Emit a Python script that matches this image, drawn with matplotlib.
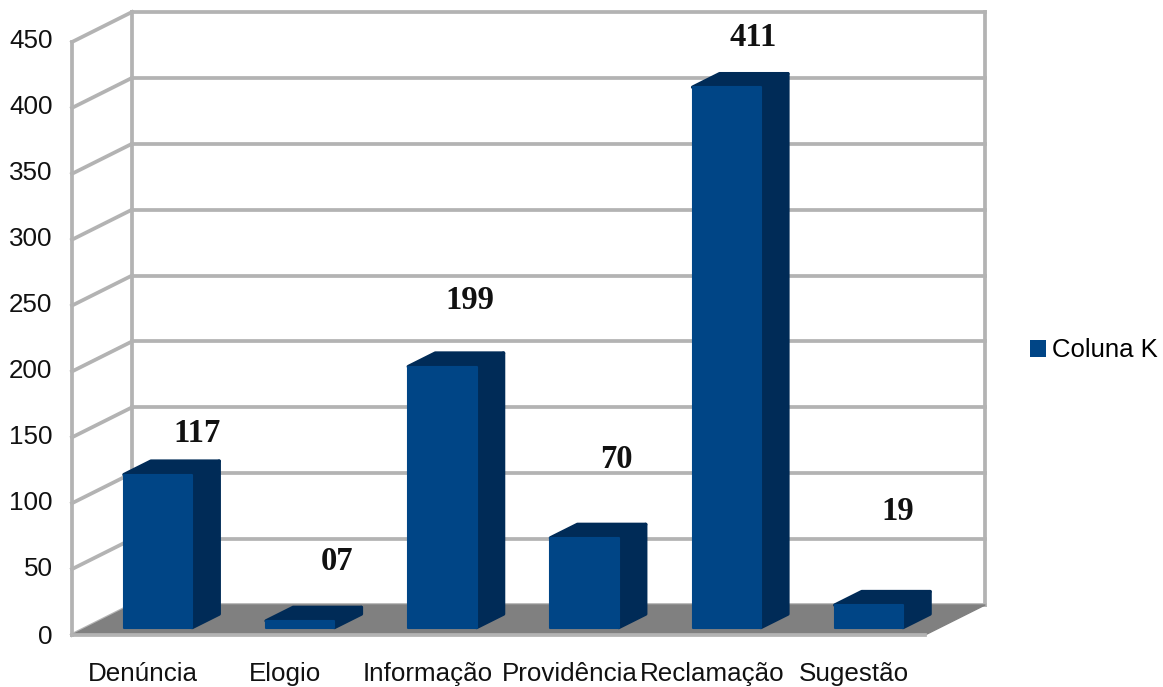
import matplotlib
matplotlib.use("Agg")
import matplotlib.pyplot as plt
from matplotlib.patches import Patch
from matplotlib.transforms import ScaledTranslation

categories = ["Denúncia", "Elogio", "Informação", "Providência", "Reclamação", "Sugestão"]
# bar heights as drawn, the printed labels are a bit higher than the bars
values = [116, 5, 198, 68, 410, 17]
value_text = ["117", "07", "199", "70", "411", "19"]
y_ticks = [0, 50, 100, 150, 200, 250, 300, 350, 400, 450]
series_name = "Coluna K"

# where the value labels sit, in picture pixels
label_px = [(197, 433), (337, 561), (470, 301), (616, 459), (753, 37), (898, 511)]

W, H = 1163, 687
FRONT = "#004586"
DARK = "#002b57"
GRID = "#b3b3b3"
FLOOR = "#808080"

# oblique projection: depth 0 is the front plane, 1 the back wall
DX = 60 / (853 / 6)
DY = 30 / (593 / 450)


def proj(cat, val, depth):
    return cat + depth * DX, val + depth * DY


def face(ax, corners, color, z, lw=1.0):
    xs, ys = zip(*[proj(*c) for c in corners])
    ax.fill(xs, ys, facecolor=color, edgecolor=color, linewidth=lw,
            joinstyle="round", clip_on=False, zorder=z)


def line(ax, a, b, z=1):
    xs, ys = zip(proj(*a), proj(*b))
    ax.plot(xs, ys, color=GRID, linewidth=2.7, solid_capstyle="projecting",
            clip_on=False, zorder=z)


fig = plt.figure(figsize=(W / 100, H / 100), dpi=100)
ax = fig.add_axes([72 / W, (H - 635) / H, 853 / W, 593 / H])
ax.set_xlim(0, len(categories))
ax.set_ylim(0, 450)
for s in ax.spines.values():
    s.set_visible(False)

ymax = y_ticks[-1]
n = len(categories)
for v in y_ticks:
    line(ax, (0, v, 1), (n, v, 1))
    line(ax, (0, v, 0), (0, v, 1))
line(ax, (0, 0, 0), (0, ymax, 0))
line(ax, (0, 0, 1), (0, ymax, 1))
line(ax, (n, 0, 1), (n, ymax, 1))

face(ax, [(0, 0, 0), (n, 0, 0), (n, 0, 1), (0, 0, 1)], FLOOR, 2)
line(ax, (0, 0, 0), (n, 0, 0), z=2.5)

# bars stand in the middle of the floor depth
d0, d1 = 0.25, 0.70
bw = 0.48
for i, v in enumerate(values):
    l = i + 0.5 - bw / 2
    r = l + bw
    face(ax, [(r, 0, d0), (r, 0, d1), (r, v, d1), (r, v, d0)], DARK, 3 + i, lw=2.5)
    face(ax, [(l, v, d0), (r, v, d0), (r, v, d1), (l, v, d1)], DARK, 3 + i, lw=2.5)
    face(ax, [(l, 0, d0), (r, 0, d0), (r, v, d0), (l, v, d0)], FRONT, 3.5 + i, lw=1.5)

ax.set_xticks([i + 0.5 for i in range(n)], categories)
ax.set_yticks(y_ticks)
ax.tick_params(length=0, labelsize=18.7, labelcolor="#111111")
ax.tick_params(axis="x", pad=19.5)
ax.tick_params(axis="y", pad=14)
for t in ax.get_xticklabels():
    t.set_family("Liberation Sans")
# y labels sit slightly above their gridlines, except the 0
up = ScaledTranslation(0, 3 / 100, fig.dpi_scale_trans)
for t, v in zip(ax.get_yticklabels(), y_ticks):
    t.set_family("Liberation Sans")
    if v > 0:
        t.set_transform(t.get_transform() + up)

for txt, (px, py) in zip(value_text, label_px):
    fig.text(px / W, 1 - py / H, txt, ha="center", va="center",
             family="Liberation Serif", weight="bold", fontsize=23.5, color="#111111")

fig.legend(handles=[Patch(facecolor=FRONT, label=series_name)],
           loc="center left", bbox_to_anchor=(1025 / W, 1 - 350.5 / H), frameon=False,
           prop={"family": "Liberation Sans", "size": 18.5},
           handlelength=0.62, handleheight=0.62, handletextpad=0.25,
           borderpad=0.2, borderaxespad=0)

fig.savefig("out.png", dpi=100)
